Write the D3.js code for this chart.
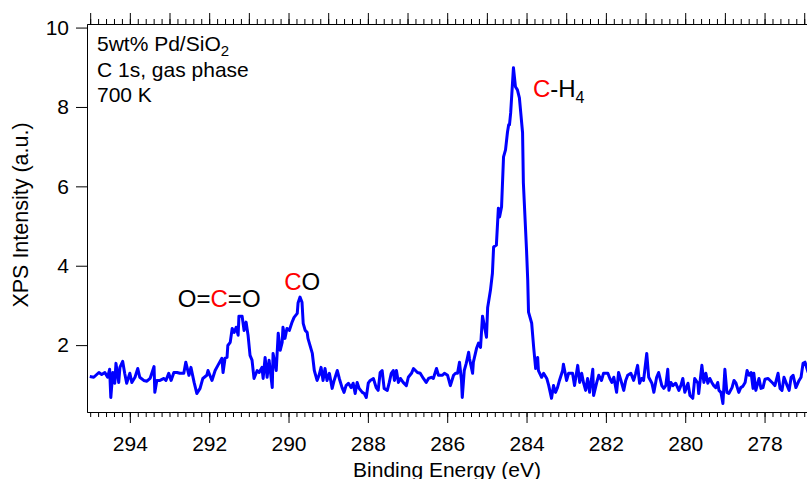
<!DOCTYPE html>
<html>
<head>
<meta charset="utf-8">
<script src="https://cdn.jsdelivr.net/npm/d3@7"></script>
<style>
  html, body { margin: 0; padding: 0; background: #fff; }
  svg { display: block; font-family: "Liberation Sans", Arial, sans-serif; }
</style>
</head>
<body>
<svg id="chart" width="807" height="479"></svg>
<script>
// C 1s gas phase spectrum
var energy = [
  295.01, 294.91, 294.78, 294.71, 294.63, 294.56, 294.51, 294.48, 294.43, 294.38,
  294.35, 294.28, 294.25, 294.18, 294.13, 294.08, 294.00, 293.95, 293.87, 293.80,
  293.75, 293.65, 293.57, 293.49, 293.39, 293.37, 293.32, 293.24, 293.14, 293.09,
  293.02, 292.96, 292.89, 292.81, 292.74, 292.64, 292.59, 292.51, 292.46, 292.38,
  292.31, 292.23, 292.16, 292.06, 292.03, 291.93, 291.85, 291.78, 291.68, 291.65,
  291.60, 291.55, 291.53, 291.47, 291.42, 291.37, 291.32, 291.27, 291.25, 291.17,
  291.12, 291.07, 291.02, 290.97, 290.92, 290.87, 290.79, 290.74, 290.67, 290.64,
  290.59, 290.54, 290.49, 290.41, 290.39, 290.31, 290.26, 290.21, 290.16, 290.14,
  290.09, 290.04, 289.98, 289.91, 289.86, 289.78, 289.76, 289.71, 289.66, 289.63,
  289.58, 289.53, 289.51, 289.40, 289.35, 289.28, 289.23, 289.18, 289.13, 289.08,
  289.03, 288.97, 288.90, 288.85, 288.77, 288.72, 288.65, 288.60, 288.55, 288.49,
  288.42, 288.37, 288.32, 288.27, 288.22, 288.14, 288.09, 288.04, 287.99, 287.94,
  287.86, 287.79, 287.74, 287.69, 287.64, 287.59, 287.51, 287.46, 287.41, 287.36,
  287.33, 287.28, 287.23, 287.18, 287.11, 287.03, 286.98, 286.90, 286.85, 286.75,
  286.68, 286.60, 286.53, 286.47, 286.40, 286.35, 286.27, 286.22, 286.12, 286.07,
  285.99, 285.92, 285.84, 285.79, 285.74, 285.69, 285.64, 285.62, 285.57, 285.52,
  285.46, 285.44, 285.36, 285.34, 285.26, 285.21, 285.16, 285.11, 285.09, 285.01,
  284.98, 284.91, 284.86, 284.83, 284.76, 284.73, 284.71, 284.68, 284.63, 284.58,
  284.53, 284.48, 284.45, 284.43, 284.40, 284.33, 284.28, 284.23, 284.18, 284.10,
  284.08, 284.00, 283.97, 283.95, 283.87, 283.82, 283.77, 283.72, 283.70, 283.62,
  283.57, 283.49, 283.44, 283.37, 283.32, 283.27, 283.22, 283.17, 283.09, 283.07,
  282.99, 282.94, 282.84, 282.79, 282.71, 282.66, 282.61, 282.56, 282.51, 282.46,
  282.41, 282.33, 282.31, 282.23, 282.18, 282.11, 282.06, 281.95, 281.90, 281.85,
  281.80, 281.73, 281.68, 281.60, 281.55, 281.50, 281.45, 281.37, 281.30, 281.25,
  281.20, 281.15, 281.10, 281.05, 280.97, 280.92, 280.84, 280.79, 280.72, 280.67,
  280.59, 280.54, 280.49, 280.44, 280.41, 280.36, 280.31, 280.24, 280.16, 280.11,
  280.06, 280.01, 279.93, 279.88, 279.81, 279.76, 279.68, 279.66, 279.58, 279.53,
  279.48, 279.43, 279.38, 279.33, 279.28, 279.23, 279.18, 279.15, 279.10, 279.05,
  279.00, 278.95, 278.90, 278.82, 278.77, 278.72, 278.65, 278.60, 278.55, 278.49,
  278.44, 278.39, 278.34, 278.29, 278.27, 278.22, 278.14, 278.09, 278.04, 277.99,
  277.91, 277.86, 277.79, 277.74, 277.66, 277.61, 277.56, 277.51, 277.43, 277.38,
  277.33, 277.28, 277.21, 277.13, 277.08, 277.03, 276.98, 276.90
];
var intensity = [
  1.21, 1.19, 1.31, 1.26, 1.31, 1.19, 1.39, 0.68, 1.31, 1.04,
  1.54, 1.06, 1.44, 1.59, 1.29, 1.04, 1.29, 1.06, 1.19, 1.41,
  1.19, 1.11, 1.09, 1.16, 1.46, 0.81, 1.11, 1.11, 1.16, 1.11,
  1.29, 1.11, 1.31, 1.31, 1.29, 1.29, 1.57, 1.24, 1.44, 1.06,
  0.78, 0.91, 1.16, 1.24, 1.36, 1.11, 1.36, 1.49, 1.67, 1.31,
  1.67, 1.69, 1.99, 2.07, 2.42, 2.32, 2.45, 2.25, 2.73, 2.73,
  2.37, 2.58, 2.25, 1.74, 1.62, 1.16, 1.36, 1.31, 1.44, 1.16,
  1.69, 1.19, 1.62, 0.93, 1.79, 1.36, 2.30, 1.87, 2.07, 2.45,
  2.17, 2.42, 2.37, 2.58, 2.70, 2.80, 3.06, 3.21, 3.08, 2.55,
  2.37, 2.32, 2.17, 1.79, 1.36, 1.11, 1.24, 1.44, 1.11, 1.41,
  1.11, 1.29, 0.91, 1.11, 1.36, 1.16, 0.93, 0.81, 0.98, 1.04,
  0.93, 1.04, 0.78, 1.06, 0.91, 0.81, 0.78, 0.68, 1.04, 1.11,
  1.16, 0.93, 0.86, 1.31, 1.36, 0.91, 0.86, 1.06, 1.29, 1.36,
  1.11, 1.36, 1.06, 1.16, 1.06, 0.98, 1.19, 1.29, 1.41, 1.31,
  1.29, 1.16, 1.06, 1.16, 1.19, 1.16, 1.41, 1.24, 1.24, 1.29,
  1.24, 0.98, 1.24, 1.29, 1.29, 1.57, 1.11, 0.68, 1.36, 1.54,
  1.82, 1.67, 1.29, 1.57, 1.92, 2.05, 1.94, 2.73, 2.63, 2.20,
  2.95, 3.38, 3.81, 4.47, 4.52, 5.08, 5.45, 5.23, 5.48, 6.74,
  6.92, 7.37, 7.55, 7.55, 7.85, 8.99, 8.51, 8.43, 8.23, 7.35,
  6.09, 4.39, 3.64, 2.83, 2.55, 1.94, 1.41, 1.69, 1.36, 1.19,
  1.29, 1.16, 0.98, 0.66, 0.98, 0.81, 0.93, 1.11, 1.36, 1.52,
  1.11, 1.29, 1.29, 0.98, 1.49, 1.06, 1.29, 1.04, 0.86, 1.16,
  0.81, 1.39, 0.73, 1.06, 1.24, 1.11, 1.29, 1.29, 1.16, 1.06,
  1.19, 0.81, 1.31, 1.04, 0.86, 1.11, 1.24, 1.29, 1.11, 1.29,
  1.49, 1.04, 1.16, 1.11, 1.79, 1.19, 1.04, 0.81, 1.19, 1.31,
  0.98, 0.91, 0.98, 1.39, 0.86, 1.06, 0.98, 1.04, 0.86, 0.98,
  1.16, 0.81, 1.04, 0.73, 0.66, 1.16, 1.04, 0.78, 1.49, 1.06,
  1.29, 1.04, 1.16, 1.06, 0.98, 0.93, 1.06, 0.86, 0.81, 0.53,
  1.39, 0.81, 0.78, 0.93, 1.11, 1.04, 0.81, 0.93, 0.96, 1.06,
  1.36, 1.24, 1.31, 0.91, 1.29, 0.86, 1.16, 0.91, 0.93, 1.14,
  1.16, 1.11, 1.04, 0.98, 1.29, 0.91, 0.86, 1.19, 0.98, 0.86,
  1.19, 1.24, 0.93, 1.11, 1.19, 1.54, 1.57, 1.31
];

var xMajorTicks = [294, 292, 290, 288, 286, 284, 282, 280, 278];
var yTicks = [2, 4, 6, 8, 10];
var infoLines = ["5wt% Pd/SiO", "C 1s, gas phase", "700 K"];

// peak labels: red part is the carbon atom
var peakLabels = [
  { E: 292.79, I: 2.95, parts: [["O=", "#000"], ["C", "#f00"], ["=O", "#000"]], sub: null },
  { E: 290.11, I: 3.40, parts: [["C", "#f00"], ["O", "#000"]], sub: null },
  { E: 283.84, I: 8.26, parts: [["C", "#f00"], ["-H", "#000"]], sub: "4" }
];

(function () {
  var pLeft = 87, pRight = 807, pTop = 24, pBottom = 412;

  var x = d3.scaleLinear().domain([295.08, 276.93]).range([pLeft, pRight]);
  var y = d3.scaleLinear().domain([0.315, 10.09]).range([pBottom, pTop]);

  var svg = d3.select("#chart");

  svg.append("defs").append("clipPath").attr("id", "plotclip")
    .append("rect")
    .attr("x", pLeft).attr("y", pTop - 2)
    .attr("width", pRight - pLeft + 2).attr("height", pBottom - pTop + 4);

  var minor = d3.range(295.0, 276.9, -0.2);
  var unitTicks = d3.range(295, 276, -1);

  // bottom axis
  svg.append("g")
    .attr("transform", "translate(0," + pBottom + ")")
    .call(d3.axisBottom(x).tickValues(minor).tickSize(5).tickSizeOuter(0).tickFormat(""));
  svg.append("g")
    .attr("class", "xlab")
    .attr("transform", "translate(0," + pBottom + ")")
    .call(d3.axisBottom(x).tickValues(xMajorTicks).tickSize(11).tickSizeOuter(0)
      .tickPadding(13).tickFormat(d3.format("d")));

  // top axis
  svg.append("g")
    .attr("transform", "translate(0," + pTop + ")")
    .call(d3.axisTop(x).tickValues(minor).tickSize(5).tickSizeOuter(0).tickFormat(""));
  svg.append("g")
    .attr("transform", "translate(0," + pTop + ")")
    .call(d3.axisTop(x).tickValues(unitTicks).tickSize(11).tickSizeOuter(0).tickFormat(""));

  // left axis
  svg.append("g")
    .attr("class", "ylab")
    .attr("transform", "translate(" + pLeft + ",0)")
    .call(d3.axisLeft(y).tickValues(yTicks).tickSize(11).tickSizeOuter(0)
      .tickPadding(7).tickFormat(d3.format("d")));

  svg.selectAll(".domain").attr("stroke", "#000").attr("stroke-width", 1);
  svg.selectAll(".tick line").attr("stroke", "#000").attr("stroke-width", 1);
  svg.selectAll(".xlab text, .ylab text")
    .attr("fill", "#000")
    .style("font-size", "21px")
    .style("font-family", "'Liberation Sans', Arial, sans-serif");

  // spectrum
  var pts = energy.map(function (e, i) { return [e, intensity[i]]; });
  var line = d3.line()
    .x(function (d) { return x(d[0]); })
    .y(function (d) { return y(d[1]); });

  svg.append("path")
    .datum(pts)
    .attr("clip-path", "url(#plotclip)")
    .attr("fill", "none")
    .attr("stroke", "#0000ff")
    .attr("stroke-width", 3)
    .attr("stroke-linejoin", "round")
    .attr("d", line);

  // axis titles
  svg.append("text")
    .attr("x", 447)
    .attr("y", 477)
    .attr("text-anchor", "middle")
    .style("font-size", "21px")
    .text("Binding Energy (eV)");

  svg.append("text")
    .attr("transform", "translate(28,215) rotate(-90)")
    .attr("text-anchor", "middle")
    .style("font-size", "21.5px")
    .text("XPS Intensity (a.u.)");

  // sample info block
  var info = svg.append("g").style("font-size", "21px");
  var t0 = info.append("text").attr("x", 97).attr("y", 51);
  t0.append("tspan").text(infoLines[0]);
  t0.append("tspan").attr("dy", 5).style("font-size", "15px").text("2");
  info.append("text").attr("x", 97).attr("y", 77).text(infoLines[1]);
  info.append("text").attr("x", 97).attr("y", 102).text(infoLines[2]);

  // peak labels
  peakLabels.forEach(function (p) {
    var t = svg.append("text")
      .attr("x", x(p.E))
      .attr("y", y(p.I))
      .style("font-size", "24px");
    p.parts.forEach(function (q) {
      t.append("tspan").attr("fill", q[1]).text(q[0]);
    });
    if (p.sub) t.append("tspan").attr("dy", 6).style("font-size", "16px").text(p.sub);
  });
})();
</script>
</body>
</html>
